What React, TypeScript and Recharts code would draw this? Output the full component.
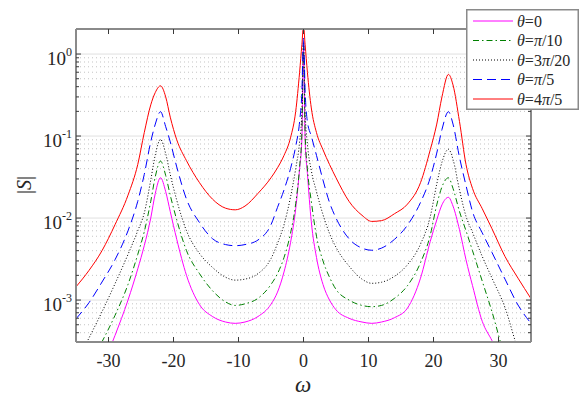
import { LineChart, Line, XAxis, YAxis, ReferenceLine, Legend } from "recharts";

// angular frequency samples
const OMEGA = [
  -35, -33, -31, -29, -27, -25.5, -24.5, -23.5, -22.8, -22, -21.2, -20.5, -19.5, -18, -16,
  -14, -12, -10.5, -9, -7, -5, -4, -3, -2, -1.2, -0.6, -0.25, 0, 0.25, 0.6,
  1.2, 2, 3, 4, 5, 7, 9, 10.5, 12, 14, 16, 18, 19.5, 20.5, 21.3,
  22.3, 23, 24, 25, 26, 27.5, 29, 31, 33, 35,
];

// |S|, one list per theta
const S_THETA_0 = [
  3e-5, 6e-5, 1.5e-4, 3.7e-4, 1.0e-3, 2.4e-3, 4.6e-3, 1.0e-2, 0.02, 0.031, 0.021, 0.012, 5.5e-3, 2.0e-3, 8.8e-4,
  6.3e-4, 5.4e-4, 5.2e-4, 5.4e-4, 6.3e-4, 8.9e-4, 1.25e-3, 2.2e-3, 5.0e-3, 0.013, 0.04, 0.09, 1.2, 0.09, 0.035,
  9e-3, 3.3e-3, 1.55e-3, 1.0e-3, 7.6e-4, 6.0e-4, 5.4e-4, 5.2e-4, 5.4e-4, 6.1e-4, 8.0e-4, 1.85e-3, 5.2e-3, 9.5e-3, 0.0145,
  0.0179, 0.014, 7.2e-3, 3.1e-3, 1.5e-3, 5.5e-4, 3.2e-4, 1.5e-4, 7e-5, 3.5e-5,
];
const S_THETA_PI_10 = [
  8e-5, 1.6e-4, 3.1e-4, 6.5e-4, 1.55e-3, 3.6e-3, 6.8e-3, 0.016, 0.032, 0.0495, 0.033, 0.019, 9.5e-3, 4.0e-3, 2.1e-3,
  1.3e-3, 9.5e-4, 8.6e-4, 9.0e-4, 1.05e-3, 1.55e-3, 2.1e-3, 3.3e-3, 6.5e-3, 0.015, 0.042, 0.11, 1.3, 0.11, 0.04,
  0.016, 6.0e-3, 3.0e-3, 1.9e-3, 1.35e-3, 1.0e-3, 8.6e-4, 8.3e-4, 8.6e-4, 1.05e-3, 1.5e-3, 2.85e-3, 6.2e-3, 0.0145, 0.024,
  0.031, 0.023, 0.012, 7.0e-3, 4.0e-3, 1.7e-3, 7.2e-4, 2.0e-4, 8e-5, 4e-5,
];
const S_THETA_3PI_20 = [
  1.65e-4, 3.45e-4, 7.2e-4, 1.58e-3, 3.6e-3, 7.0e-3, 0.0115, 0.029, 0.059, 0.091, 0.061, 0.034, 0.0165, 7.0e-3, 3.7e-3,
  2.5e-3, 1.9e-3, 1.75e-3, 1.8e-3, 2.1e-3, 3.2e-3, 4.9e-3, 8.3e-3, 0.018, 0.04, 0.085, 0.2, 1.4, 0.2, 0.08,
  0.038, 0.021, 0.011, 6.5e-3, 4.4e-3, 2.6e-3, 1.8e-3, 1.6e-3, 1.65e-3, 1.95e-3, 2.7e-3, 4.8e-3, 0.0104, 0.026, 0.048,
  0.069, 0.052, 0.022, 0.0105, 6.7e-3, 3.4e-3, 1.85e-3, 8.1e-4, 2.5e-4, 1.1e-4,
];
const S_THETA_PI_5 = [
  5.9e-4, 9.3e-4, 1.66e-3, 3.1e-3, 7.0e-3, 0.016, 0.034, 0.085, 0.14, 0.198, 0.13, 0.085, 0.042, 0.017, 8.8e-3,
  5.6e-3, 4.75e-3, 4.6e-3, 4.75e-3, 5.4e-3, 8.3e-3, 0.0135, 0.022, 0.04, 0.075, 0.15, 0.35, 1.6, 0.35, 0.15,
  0.1, 0.058, 0.029, 0.0155, 0.01, 5.6e-3, 4.3e-3, 4.05e-3, 4.3e-3, 5.5e-3, 8.2e-3, 0.0155, 0.031, 0.062, 0.12,
  0.198, 0.14, 0.055, 0.025, 0.012, 6.6e-3, 3.8e-3, 1.8e-3, 8.7e-4, 5.2e-4,
];
const S_THETA_4PI_5 = [
  1.45e-3, 2.3e-3, 4.0e-3, 8.3e-3, 0.019, 0.045, 0.11, 0.24, 0.34, 0.41, 0.3, 0.17, 0.09, 0.05, 0.027,
  0.017, 0.0132, 0.0126, 0.014, 0.02, 0.031, 0.041, 0.058, 0.095, 0.2, 0.6, 1.3, 2.2, 1.3, 0.6,
  0.22, 0.11, 0.068, 0.045, 0.031, 0.016, 0.0108, 0.0091, 0.0093, 0.0113, 0.0148, 0.027, 0.068, 0.14, 0.3,
  0.565, 0.42, 0.15, 0.045, 0.023, 0.013, 7.4e-3, 3.4e-3, 1.85e-3, 1.04e-3,
];

const X_TICKS = [-30, -20, -10, 0, 10, 20, 30];
const Y_MAJOR = [1e-3, 1e-2, 1e-1, 1];
const Y_EXP = ["-3", "-2", "-1", "0"];
const Y_MINOR = [
  4e-4, 5e-4, 6e-4, 7e-4, 8e-4, 9e-4,
  2e-3, 3e-3, 4e-3, 5e-3, 6e-3, 7e-3, 8e-3, 9e-3,
  2e-2, 3e-2, 4e-2, 5e-2, 6e-2, 7e-2, 8e-2, 9e-2,
  0.2, 0.3, 0.4, 0.5, 0.6, 0.7, 0.8, 0.9,
];
const Y_TICKS = [...Y_MINOR, ...Y_MAJOR].sort((a, b) => a - b);

const SERIES = [
  { key: "t0", label: "0", color: "#ff00ff", dash: undefined, values: S_THETA_0 },
  { key: "t1", label: "π/10", color: "#008000", dash: "6 3 1.5 3", values: S_THETA_PI_10 },
  { key: "t2", label: "3π/20", color: "#000000", dash: "1 2", values: S_THETA_3PI_20 },
  { key: "t3", label: "π/5", color: "#0000ff", dash: "9 5", values: S_THETA_PI_5 },
  { key: "t4", label: "4π/5", color: "#ff0000", dash: undefined, values: S_THETA_4PI_5 },
];

const rows = OMEGA.map((w, i) => {
  const r: Record<string, number> = { w };
  SERIES.forEach((s) => (r[s.key] = s.values[i]));
  return r;
});

const FONT = '"Liberation Serif", "DejaVu Serif", serif';
const FRAME = "#8a8a8a";
const TICK = "#3a3a3a";
const TEXT = "#262626";
const txt = { fontFamily: FONT };

function BottomTick({ x, y, payload }: any) {
  return (
    <g>
      <line x1={x} x2={x} y1={y} y2={y - 5} stroke={TICK} />
      <text x={x} y={y + 25} textAnchor="middle" fontSize={18} style={txt} fill={TEXT}>
        {payload.value}
      </text>
    </g>
  );
}

function TopTick({ x, y }: any) {
  return <line x1={x} x2={x} y1={y} y2={y + 5} stroke={TICK} />;
}

function LeftTick({ x, y, payload }: any) {
  const i = Y_MAJOR.indexOf(payload.value);
  if (i < 0) return <line x1={x} x2={x + 3} y1={y} y2={y} stroke={TICK} />;
  return (
    <g>
      <line x1={x} x2={x + 5} y1={y} y2={y} stroke={TICK} />
      <text x={x - 4} y={y + 11} textAnchor="end" fontSize={19} style={txt} fill={TEXT}>
        10
        <tspan dy={-9} fontSize={12}>
          {Y_EXP[i]}
        </tspan>
      </text>
    </g>
  );
}

function RightTick({ x, y, payload }: any) {
  const len = Y_MAJOR.includes(payload.value) ? 5 : 3;
  return <line x1={x} x2={x - len} y1={y} y2={y} stroke={TICK} />;
}

function ThetaLabel({ label }: { label: string }) {
  const parts = label.split("π");
  return (
    <>
      <tspan fontStyle="italic">θ</tspan>=
      {parts.map((p, i) => (
        <tspan key={i}>
          {p}
          {i < parts.length - 1 && <tspan fontStyle="italic">π</tspan>}
        </tspan>
      ))}
    </>
  );
}

function LegendBox() {
  return (
    <svg width={113} height={101} style={{ display: "block" }}>
      <rect x={0.75} y={0.75} width={111.5} height={99.5} fill="#ffffff" stroke={FRAME} strokeWidth={1.5} />
      {SERIES.map((s, i) => {
        const cy = 12 + i * 19.5;
        return (
          <g key={s.key}>
            <line x1={7} x2={47} y1={cy} y2={cy} stroke={s.color} strokeDasharray={s.dash} />
            <text x={51} y={cy + 5.5} fontSize={16} style={txt} fill={TEXT}>
              <ThetaLabel label={s.label} />
            </text>
          </g>
        );
      })}
    </svg>
  );
}

export default function App() {
  return (
    <div
      style={{ position: "absolute", left: 0, top: 0, width: 587, height: 397, background: "#fff", fontFamily: FONT }}
    >
      <LineChart width={587} height={397} data={rows} margin={{ top: 19, right: 46, bottom: 25, left: 36 }}>
        <XAxis
          dataKey="w"
          type="number"
          domain={[-35, 35]}
          allowDataOverflow
          ticks={X_TICKS}
          interval={0}
          height={30}
          tickSize={0}
          tickMargin={0}
          tickLine={false}
          tick={<BottomTick />}
          axisLine={{ stroke: FRAME, strokeWidth: 2 }}
        />
        <XAxis
          xAxisId="top"
          orientation="top"
          dataKey="w"
          type="number"
          domain={[-35, 35]}
          allowDataOverflow
          ticks={X_TICKS}
          interval={0}
          height={10}
          tickSize={0}
          tickMargin={0}
          tickLine={false}
          tick={<TopTick />}
          axisLine={{ stroke: FRAME, strokeWidth: 2 }}
        />
        <YAxis
          type="number"
          scale="log"
          domain={[3.08e-4, 2.02]}
          allowDataOverflow
          ticks={Y_TICKS}
          interval={0}
          width={40}
          tickSize={0}
          tickMargin={0}
          tickLine={false}
          tick={<LeftTick />}
          axisLine={{ stroke: FRAME, strokeWidth: 2 }}
        />
        <YAxis
          yAxisId="r"
          orientation="right"
          type="number"
          scale="log"
          domain={[3.08e-4, 2.02]}
          allowDataOverflow
          ticks={Y_TICKS}
          interval={0}
          width={10}
          tickSize={0}
          tickMargin={0}
          tickLine={false}
          tick={<RightTick />}
          axisLine={{ stroke: FRAME, strokeWidth: 2 }}
        />
        {Y_MINOR.map((v) => (
          <ReferenceLine key={"n" + v} y={v} stroke="#c4c4c4" strokeDasharray="1 3" />
        ))}
        {Y_MAJOR.map((v) => (
          <ReferenceLine key={"m" + v} y={v} stroke="#e0e0e0" />
        ))}
        {SERIES.map((s) => (
          <Line
            key={s.key}
            dataKey={s.key}
            type="monotone"
            stroke={s.color}
            strokeWidth={1}
            strokeDasharray={s.dash}
            dot={false}
            activeDot={false}
            isAnimationActive={false}
          />
        ))}
        <Legend
          layout="vertical"
          align="center"
          verticalAlign="middle"
          wrapperStyle={{ left: 466, top: 9, width: 113, height: 101 }}
          content={() => <LegendBox />}
        />
        <text x={303} y={392} textAnchor="middle" fontSize={23} fontStyle="italic" style={txt} fill={TEXT}>
          ω
        </text>
        <text
          x={0}
          y={0}
          transform="translate(31,185) rotate(-90)"
          textAnchor="middle"
          fontSize={20}
          style={txt}
          fill={TEXT}
        >
          |<tspan fontStyle="italic">S</tspan>|
        </text>
      </LineChart>
    </div>
  );
}
